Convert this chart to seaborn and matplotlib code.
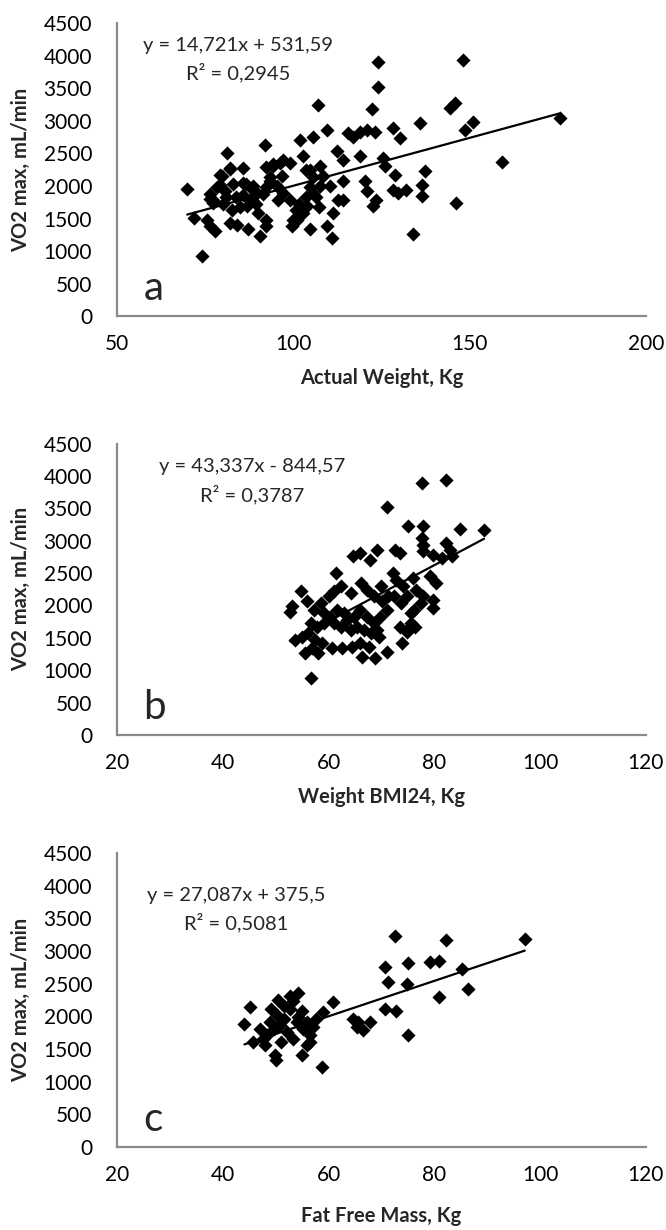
import numpy as np
import pandas as pd
import matplotlib
matplotlib.use("Agg")
import matplotlib.pyplot as plt
import seaborn as sns

# panel a: actual weight (kg) vs VO2 max (mL/min)
weight_a = [69.9, 74.0, 71.9, 81.1, 76.3, 77.3, 75.6, 76.4, 77.8, 79.7, 79.2, 80.6,
            82.0, 82.5, 82.0, 83.9, 85.8, 85.8, 86.8, 87.2, 88.7, 88.2, 89.6, 90.1,
            90.5, 92.0, 92.4, 92.4, 93.4, 94.3, 95.3, 96.2, 96.7, 97.2, 99.1, 99.1,
            99.5, 101.0, 101.9, 102.8, 102.8, 103.8, 104.7, 104.7, 105.7, 105.7, 107.1,
            107.6, 107.6, 108.5, 109.5, 109.5, 110.9, 110.4, 111.3, 112.3, 112.8, 114.2,
            114.2, 114.2, 115.6, 117.0, 118.9, 118.9, 120.8, 120.4, 120.8, 122.2, 123.2,
            124.1, 124.1, 123.6, 122.7, 125.5, 126.0, 128.4, 128.8, 128.4, 130.2, 129.8,
            132.0, 134.0, 135.9, 137.3, 136.4, 136.4, 144.4, 145.8, 146.1, 148.0, 148.7,
            150.9, 159.1, 175.6,
            82.1, 79.2, 77.3, 76.4, 78.3, 80.1, 81.0, 82.9, 83.8, 84.8, 86.6, 85.7,
            87.6, 88.5, 89.5, 91.4, 92.3, 93.3, 94.2, 92.3, 95.6, 97.0, 99.9, 100.8,
            101.7, 103.6, 104.6, 103.6, 105.5, 106.4, 107.4]
vo2_a = [1959, 923, 1510, 2515, 1801, 1740, 1485, 1383, 1306, 2148, 2020, 1918,
         2275, 1638, 1434, 1408, 2275, 2046, 1689, 1332, 1995, 1791, 1893, 1587,
         1230, 2633, 1485, 1383, 2071, 2301, 1995, 2352, 2148, 1893, 2352, 1791,
         1383, 1485, 2709, 2454, 1587, 1689, 1332, 2250, 2760, 1893, 3245,
         2301, 1995, 2148, 2862, 1383, 1204, 1995, 1587, 2531, 1791, 2403,
         2071, 1791, 2811, 2760, 2454, 2837, 2862, 2071, 1918, 3178, 2837,
         3908, 3515, 1791, 1689, 2429, 2301, 2888, 2173, 1944, 2735, 1893,
         1944, 1255, 2964, 2224, 2020, 1842, 3194, 3270, 1740, 3934, 2862,
         2990, 2367, 3041,
         2268, 2166, 1782, 1884, 1987, 1731, 1833, 2038, 1833, 1679, 2038, 1858,
         1782, 1935, 1731, 1884, 1987, 2140, 2345, 2294, 1782, 2396, 1475, 1628,
         1731, 1833, 1987, 2243, 2140, 1833, 1679]

# panel b: weight at BMI 24 (kg) vs VO2 max
weight_b = [77.6, 82.2, 71.0, 75.1, 77.8, 84.8, 89.4, 77.6, 77.8, 82.3, 82.9, 79.8,
            81.4, 83.3, 64.7, 65.9, 67.8, 69.1, 72.5, 73.5, 77.9, 61.5, 72.2, 72.8,
            74.1, 76.0, 79.1, 80.4, 76.6, 77.9, 79.8, 54.7, 56.0, 57.2, 58.5, 60.1,
            61.0, 62.3, 64.2, 66.1, 67.3, 68.6, 69.9, 70.2, 71.2, 72.4, 73.7, 74.9,
            76.2, 77.5, 79.7, 52.8, 53.0, 59.1, 60.3, 61.6, 62.9, 63.5, 64.8, 66.0,
            67.3, 68.6, 69.8, 71.1, 75.5, 56.6, 57.9, 59.1, 61.0, 62.3, 64.2, 65.4,
            66.7, 68.0, 69.2, 73.6, 74.9, 75.5, 53.7, 55.0, 56.2, 57.5, 58.8, 55.6,
            56.8, 58.1, 60.6, 62.5, 64.4, 66.0, 66.3, 67.6, 68.8, 69.5, 71.0, 73.9,
            74.8, 76.4, 56.6]
vo2_b = [3892, 3933, 3521, 3222, 3222, 3181, 3160, 3041, 2938, 2964, 2861, 2784,
         2732, 2758, 2758, 2810, 2706, 2861, 2861, 2810, 2835, 2500, 2500, 2397,
         2294, 2423, 2449, 2345, 2242, 2139, 2088, 2217, 2062, 1933, 2036, 2139,
         2217, 2294, 2191, 2345, 2242, 2139, 2294, 2062, 2139, 2139, 2036, 2139,
         1933, 2036, 1959, 1907, 1985, 1882, 1830, 1933, 1882, 1778, 1830, 1933,
         1830, 1727, 1830, 1933, 1882, 1727, 1675, 1727, 1727, 1675, 1624, 1675,
         1624, 1572, 1624, 1675, 1624, 1727, 1469, 1521, 1572, 1469, 1418, 1263,
         1340, 1263, 1340, 1340, 1366, 1418, 1211, 1366, 1186, 1521, 1289, 1418,
         1598, 1675, 876]

# panel c: fat free mass (kg) vs VO2 max
ffm_c = [97.1, 72.6, 82.3, 70.7, 75.0, 79.1, 80.8, 85.2, 71.3, 74.8, 86.4, 80.8,
         70.7, 72.8, 75.1, 64.7, 65.6, 66.6, 67.8, 65.3, 60.9, 58.9, 58.7, 45.1,
         44.1, 45.8, 48.0, 50.5, 52.7, 54.3, 49.9, 50.1, 54.9, 55.9, 48.9, 49.6,
         50.2, 50.8, 51.5, 52.1, 52.7, 53.3, 54.0, 54.9, 55.2, 55.9, 56.5, 57.1,
         48.3, 51.1, 56.5, 47.0, 47.7, 49.2, 51.5, 53.3, 57.7, 54.3]
vo2_c = [3179, 3230, 3164, 2758, 2814, 2824, 2849, 2723, 2530, 2494, 2418, 2292,
         2114, 2074, 1719, 1962, 1911, 1785, 1911, 1835, 2216, 2063, 1227, 2150,
         1886, 1607, 1557, 2256, 2317, 2358, 1404, 1328, 1404, 1557, 1911, 1810,
         2013, 1861, 1962, 1759, 2114, 1658, 1911, 2089, 1810, 1911, 1709, 1835,
         1709, 1607, 1607, 1810, 1658, 2114, 2165, 2241, 1962, 1987]

# fitted trend lines as printed on the chart
slopes = [14.721, 43.337, 27.087]
intercepts = [531.59, -844.57, 375.5]
equations = ["y = 14,721x + 531,59", "y = 43,337x - 844,57", "y = 27,087x + 375,5"]
r2_texts = ["R² = 0,2945", "R² = 0,3787", "R² = 0,5081"]
x_labels = ["Actual Weight, Kg", "Weight BMI24, Kg", "Fat Free Mass, Kg"]
panel_letters = ["a", "b", "c"]
x_ticks = [[50, 100, 150, 200], [20, 40, 60, 80, 100, 120], [20, 40, 60, 80, 100, 120]]
y_ticks = list(range(0, 4501, 500))

sns.set_style("white")
plt.rcParams['font.family'] = ['Lato', 'DejaVu Sans']

fig = plt.figure(figsize=(6.66, 12.3), dpi=100)
# [left, bottom, width, height] in figure fractions
boxes = [[0.1757, 0.743, 0.794, 0.238],
         [0.1757, 0.4024, 0.794, 0.237],
         [0.1757, 0.0675, 0.794, 0.239]]
text_pos = [(0.229, 0.925, 0.833), (0.255, 0.921, 0.825), (0.225, 0.857, 0.765)]
xlabel_pads = [10, 10, 15]

datasets = [(weight_a, vo2_a), (weight_b, vo2_b), (ffm_c, vo2_c)]
grey = "#8a8a8a"

for i, (xs, ys) in enumerate(datasets):
    ax = fig.add_axes(boxes[i])
    df = pd.DataFrame({"x": xs, "y": ys})
    sns.scatterplot(data=df, x="x", y="y", marker="D", color="black", s=52,
                    linewidth=0, ax=ax, zorder=3)

    # trend line over the data range
    lx = np.array([min(xs), max(xs)])
    line_df = pd.DataFrame({"x": lx, "y": slopes[i] * lx + intercepts[i]})
    sns.lineplot(data=line_df, x="x", y="y", color="black", linewidth=1.6, ax=ax,
                 zorder=2)

    ax.set_xlim(x_ticks[i][0], x_ticks[i][-1])
    ax.set_ylim(0, 4500)
    ax.set_xticks(x_ticks[i])
    ax.set_yticks(y_ticks)

    for side in ["top", "right"]:
        ax.spines[side].set_visible(False)
    for side in ["left", "bottom"]:
        ax.spines[side].set_color(grey)
        ax.spines[side].set_linewidth(1.6)
    ax.tick_params(axis="both", direction="in", length=5, width=1.6, color=grey,
                   labelsize=15, labelcolor="black")
    ax.tick_params(axis="x", pad=13)
    ax.tick_params(axis="y", pad=18)

    ax.set_xlabel(x_labels[i], fontsize=14.5, fontweight="bold",
                  labelpad=xlabel_pads[i])
    ax.set_ylabel("VO2 max, mL/min", fontsize=14.5, fontweight="bold", labelpad=9)

    tx, ty1, ty2 = text_pos[i]
    ax.text(tx, ty1, equations[i], transform=ax.transAxes, ha="center",
            va="center", fontsize=14.5)
    ax.text(tx, ty2, r2_texts[i], transform=ax.transAxes, ha="center",
            va="center", fontsize=14.5)
    ax.text(0.05, 0.055, panel_letters[i], transform=ax.transAxes, ha="left",
            va="baseline", fontsize=29)

fig.savefig("out.png", dpi=100)
